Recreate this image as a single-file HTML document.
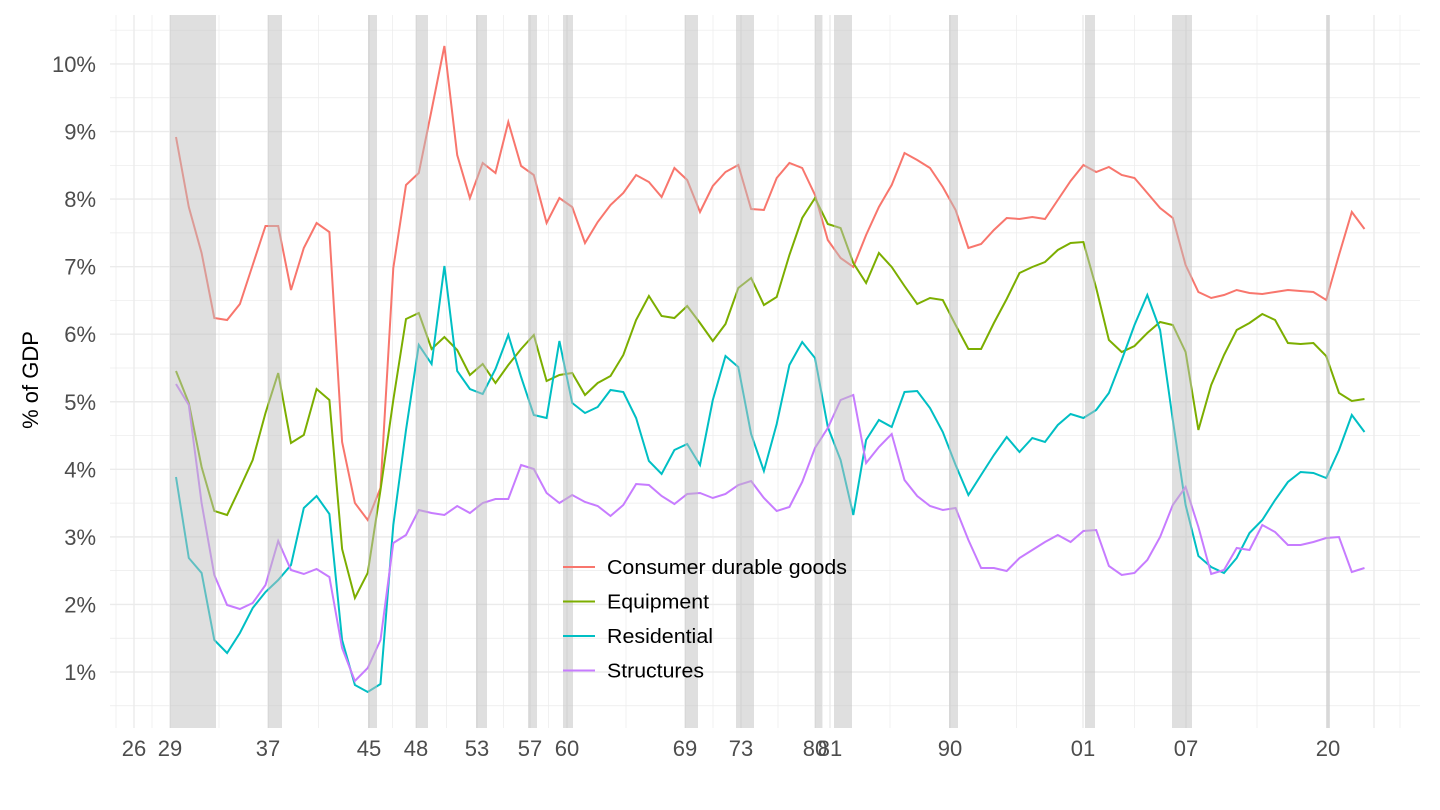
<!DOCTYPE html>
<html><head><meta charset="utf-8"><style>
body{margin:0;background:#fff;}
svg{display:block;font-family:"Liberation Sans",Arial,sans-serif;}
</style></head><body>
<svg id="s" width="1440" height="810" xmlns="http://www.w3.org/2000/svg"></svg>
<script>
const s=document.getElementById('s');let h='';
const X0=110,X1=1420,Y0=15,Y1=728;
for(let v=0.5;v<=10.5;v+=0.5){const y=672-(v-1)*67.56;if(y<Y0||y>Y1)continue;
 h+=`<line x1="${X0}" x2="${X1}" y1="${y}" y2="${y}" stroke="#ebebeb" stroke-width="${v%1==0?1.4:0.7}"/>`;}
const lab=[[134,'26'],[170,'29'],[268,'37'],[369,'45'],[416,'48'],[477,'53'],[530,'57'],[567,'60'],[685,'69'],[741,'73'],[815,'80'],[830,'81'],[950,'90'],[1083,'01'],[1186,'07'],[1328,'20']];
const vx=lab.map(a=>a[0]);
for(let i=0;i<vx.length;i++){h+=`<line x1="${vx[i]}" x2="${vx[i]}" y1="${Y0}" y2="${Y1}" stroke="#ebebeb" stroke-width="1.4"/>`;
 if(i<vx.length-1){const m=(vx[i]+vx[i+1])/2;h+=`<line x1="${m}" x2="${m}" y1="${Y0}" y2="${Y1}" stroke="#ebebeb" stroke-width="0.7"/>`;}}
h+=`<line x1="116" x2="116" y1="${Y0}" y2="${Y1}" stroke="#ebebeb" stroke-width="0.7"/><line x1="1374" x2="1374" y1="${Y0}" y2="${Y1}" stroke="#ebebeb" stroke-width="1.4"/><line x1="1400" x2="1400" y1="${Y0}" y2="${Y1}" stroke="#ebebeb" stroke-width="0.7"/>`;
for(let v=1;v<=10;v++){const y=672-(v-1)*67.56;h+=`<text x="96" y="${y+8}" text-anchor="end" font-size="22" fill="#4d4d4d">${v}%</text>`;}
lab.forEach(a=>h+=`<text x="${a[0]}" y="756" text-anchor="middle" font-size="22" fill="#4d4d4d">${a[1]}</text>`);
h+=`<text transform="translate(38,380) rotate(-90)" text-anchor="middle" font-size="22" fill="#000">% of GDP</text>`;
const red=[137,207,253,318,320,304,265,226,226,290,248,223,232,442,503,520,488,268,185,173,110,46,155,198,163,173,122,166,175,223,198,207,243,222,205,193,175,182,197,168,180,212,186,172,165,209,210,178,163,168,195,240,258,267,235,207,185,153,160,168,187,210,248,244,230,218,219,217,219,200,181,165,172,167,175,178,193,208,218,265,292,298,295,290,293,294,292,290,291,292,300,255,212,229];
const grn=[371,403,467,511,515,488,460,413,373,443,435,389,400,549,598,573,490,400,319,313,349,337,350,375,364,383,365,349,335,381,375,373,395,383,376,355,320,296,316,318,306,323,341,324,288,278,305,297,255,218,198,224,228,263,283,253,267,286,304,298,300,325,349,349,323,299,273,267,262,250,243,242,288,340,352,346,333,322,325,352,430,385,355,330,323,314,320,343,344,343,356,393,401,399];
const tea=[477,558,573,640,653,633,608,592,580,565,508,496,514,640,685,692,684,525,430,345,364,266,371,389,394,369,335,377,415,418,341,403,413,407,390,392,418,461,474,450,444,465,400,356,367,434,471,424,365,342,358,427,460,515,440,420,427,392,391,408,432,465,495,475,455,437,452,438,442,425,414,418,410,393,360,325,295,330,420,505,556,567,573,558,533,520,500,482,472,473,478,450,415,432];
const pur=[384,405,503,575,605,609,603,585,541,570,574,569,577,648,681,668,640,543,535,510,513,515,506,513,503,499,499,465,469,493,503,495,502,506,516,505,484,485,496,504,494,493,498,494,485,481,498,511,507,482,448,428,400,395,463,447,434,480,496,506,510,508,540,568,568,571,558,550,542,535,542,531,530,566,575,573,560,537,505,487,527,574,570,548,550,525,532,545,545,542,538,537,572,568];
function line(d,c){let p=d.map((y,i)=>`${(176+i*12.78).toFixed(1)},${y}`).join(' ');h+=`<polyline points="${p}" fill="none" stroke="${c}" stroke-width="2"/>`;}
line(red,'#f8766d');line(grn,'#7cae00');line(tea,'#00bfc4');line(pur,'#c77cff');
const rec=[[170,216],[268,282],[368,377],[416,428],[476,487],[528,537],[563,573],[685,698],[736,754],[815,822],[834,852],[949,958],[1085,1095],[1172,1192],[1326,1330]];
rec.forEach(r=>h+=`<rect x="${r[0]}" y="${Y0}" width="${r[1]-r[0]}" height="${Y1-Y0}" fill="#bfbfbf" opacity="0.5"/>`);
const lg=[['Consumer durable goods','#f8766d',240],['Equipment','#7cae00',102],['Residential','#00bfc4',106],['Structures','#c77cff',97]];
lg.forEach((l,i)=>{const y=567+i*34.5;h+=`<line x1="563" x2="595" y1="${y}" y2="${y}" stroke="${l[1]}" stroke-width="2"/><text x="607" y="${y+7}" font-size="20" textLength="${l[2]}" lengthAdjust="spacingAndGlyphs" fill="#000">${l[0]}</text>`;});
s.innerHTML=h;
</script>
</body></html>
